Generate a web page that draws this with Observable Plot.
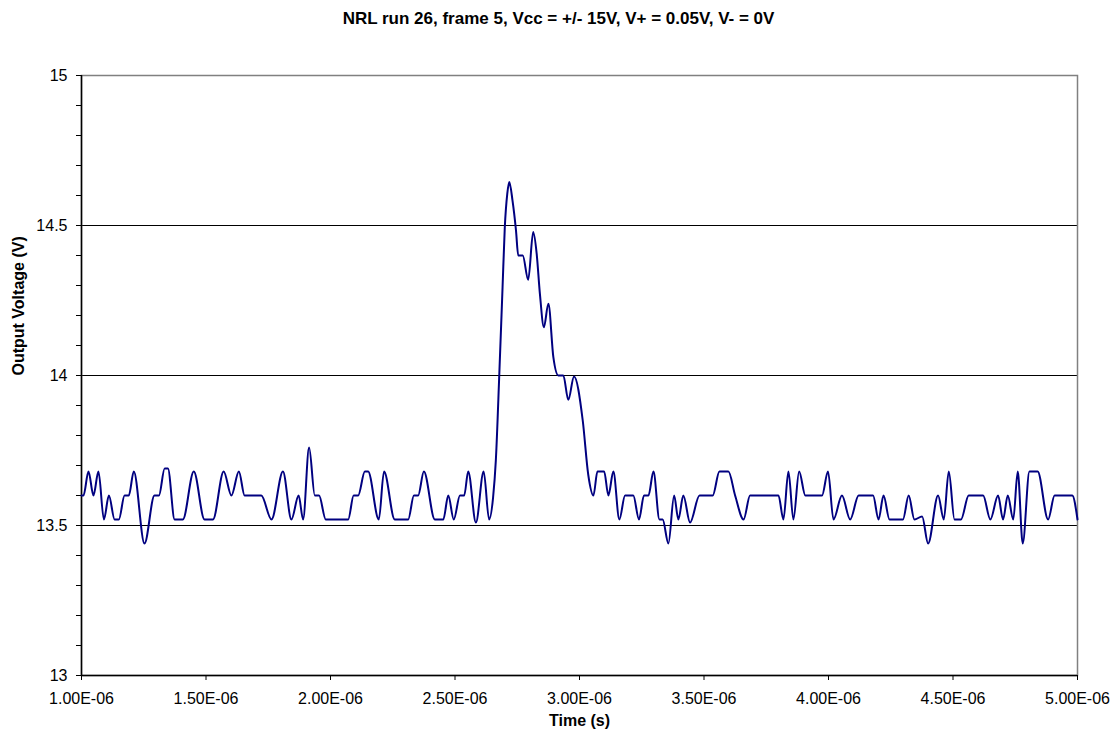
<!DOCTYPE html>
<html>
<head>
<meta charset="utf-8">
<script src="https://cdn.jsdelivr.net/npm/d3@7"></script>
<script src="https://cdn.jsdelivr.net/npm/@observablehq/plot@0.6"></script>
<style>
  html, body { margin: 0; padding: 0; background: #fff; }
  #title { width: 1117px; height: 40px; line-height: 38px; text-align: center;
    font-family: "Liberation Sans", Arial, sans-serif; font-weight: bold; font-size: 17px; color: #000; }
  #chart svg { display: block; }
</style>
</head>
<body>
<div id="title">NRL run 26, frame 5, Vcc = +/- 15V, V+ = 0.05V, V- = 0V</div>
<div id="chart"></div>
<script>
// Time in microseconds
const timeUs = [
  1.000, 1.008, 1.028, 1.048, 1.068, 1.090, 1.110, 1.133, 1.150, 1.173, 1.190, 1.210, 1.253, 1.293, 1.311,
  1.334, 1.347, 1.374, 1.407, 1.451, 1.494, 1.528, 1.571, 1.602, 1.632, 1.655, 1.722, 1.763, 1.809, 1.843,
  1.872, 1.890, 1.914, 1.937, 1.954, 1.981, 2.037,
  2.071, 2.093, 2.111, 2.138, 2.151, 2.194, 2.215, 2.258, 2.312, 2.335, 2.352, 2.375, 2.419, 2.453, 2.473,
  2.495, 2.520, 2.537, 2.553, 2.584, 2.615, 2.637,
  2.653, 2.664, 2.678, 2.691, 2.700, 2.710, 2.718, 2.731, 2.745, 2.754, 2.772, 2.794, 2.814, 2.828, 2.841,
  2.857, 2.875, 2.895, 2.915, 2.935, 2.955, 2.978, 3.013, 3.035, 3.056, 3.072, 3.099, 3.116, 3.136, 3.160,
  3.183, 3.216, 3.239, 3.259, 3.277, 3.297, 3.321, 3.334, 3.357, 3.380, 3.397, 3.417, 3.444, 3.482, 3.535,
  3.562, 3.598, 3.625, 3.659, 3.685, 3.799, 3.819, 3.839, 3.859, 3.882, 3.907, 3.974, 3.998, 4.020, 4.054,
  4.087, 4.121, 4.179, 4.201, 4.221, 4.245, 4.299, 4.322, 4.345, 4.376, 4.400, 4.440, 4.463, 4.483, 4.506,
  4.532, 4.563, 4.621, 4.650, 4.681, 4.701, 4.720, 4.742, 4.760, 4.780, 4.807, 4.840, 4.882, 4.908, 4.979,
  5.000
];
// Output voltage (V)
const volts = [
  13.60, 13.60, 13.68, 13.60, 13.68, 13.52, 13.60, 13.52, 13.52, 13.60, 13.60, 13.68, 13.44, 13.60, 13.60,
  13.69, 13.69, 13.52, 13.52, 13.68, 13.52, 13.52, 13.68, 13.60, 13.68, 13.60, 13.60, 13.52, 13.68, 13.52,
  13.60, 13.52, 13.76, 13.60, 13.60, 13.52, 13.52,
  13.52, 13.60, 13.60, 13.68, 13.68, 13.52, 13.68, 13.52, 13.52, 13.60, 13.60, 13.68, 13.52, 13.52, 13.60,
  13.52, 13.60, 13.60, 13.68, 13.51, 13.68, 13.52,
  13.594, 13.717, 14.006, 14.294, 14.494, 14.606, 14.645, 14.583, 14.483, 14.40, 14.40, 14.319, 14.478, 14.406, 14.272,
  14.161, 14.239, 14.061, 14.00, 14.00, 13.919, 13.997, 13.85, 13.67, 13.60, 13.68, 13.68, 13.60, 13.68, 13.52,
  13.60, 13.60, 13.52, 13.60, 13.60, 13.68, 13.52, 13.52, 13.44, 13.60, 13.52, 13.60, 13.51, 13.60, 13.60,
  13.68, 13.68, 13.60, 13.52, 13.60, 13.60, 13.52, 13.68, 13.52, 13.68, 13.60, 13.60, 13.68, 13.52, 13.60,
  13.52, 13.60, 13.60, 13.52, 13.60, 13.52, 13.52, 13.60, 13.52, 13.53, 13.44, 13.60, 13.52, 13.68, 13.52,
  13.52, 13.60, 13.60, 13.52, 13.60, 13.52, 13.60, 13.52, 13.68, 13.44, 13.68, 13.68, 13.52, 13.60, 13.60,
  13.52
];
const xTickUs = [1.0, 1.5, 2.0, 2.5, 3.0, 3.5, 4.0, 4.5, 5.0];
const yMajor = [13, 13.5, 14, 14.5, 15];
const yMinor = d3.range(130, 151).map(d => d / 10);
const yGrid = [13.5, 14, 14.5];

const data = timeUs.map((t, i) => ({t: t * 1e-6, v: volts[i]}));
const xTicks = xTickUs.map(t => t * 1e-6);
const sci = d => d.toExponential(2).toUpperCase().replace(/E([+-])(\d)$/, "E$10$2");

const chart = Plot.plot({
  width: 1117,
  height: 698,
  marginTop: 35,
  marginBottom: 63,
  marginLeft: 81,
  marginRight: 40,
  style: {fontFamily: "'Liberation Sans', Arial, sans-serif", fontSize: "16px", color: "#000", background: "#fff"},
  x: {domain: [1e-6, 5e-6]},
  y: {domain: [13, 15]},
  marks: [
    Plot.ruleY(yGrid, {stroke: "#000", strokeWidth: 1}),
    Plot.frame({stroke: "#808080", strokeWidth: 1.5}),
    Plot.ruleX([1e-6], {stroke: "#000", strokeWidth: 1.5}),
    Plot.ruleY([13], {stroke: "#000", strokeWidth: 1.5}),
    Plot.axisY({ticks: yMinor, tickFormat: () => "", tickSize: 5, label: null, stroke: "#000"}),
    Plot.axisY({ticks: yMajor, tickFormat: d => String(d), tickSize: 5, tickPadding: 9, label: null, fontSize: 16}),
    Plot.axisX({ticks: xTicks, tickFormat: sci, tickSize: 5, tickPadding: 12, label: null, fontSize: 16}),
    Plot.line(data, {x: "t", y: "v", stroke: "#000080", strokeWidth: 2, curve: "monotone-x"}),
    Plot.text(["Time (s)"], {text: d => d, frameAnchor: "bottom", dy: 50, fontWeight: "bold", fontSize: 16}),
    Plot.text(["Output Voltage (V)"], {text: d => d, frameAnchor: "left", dx: -63, rotate: -90, fontWeight: "bold", fontSize: 16})
  ]
});
document.getElementById("chart").appendChild(chart);
</script>
</body>
</html>
